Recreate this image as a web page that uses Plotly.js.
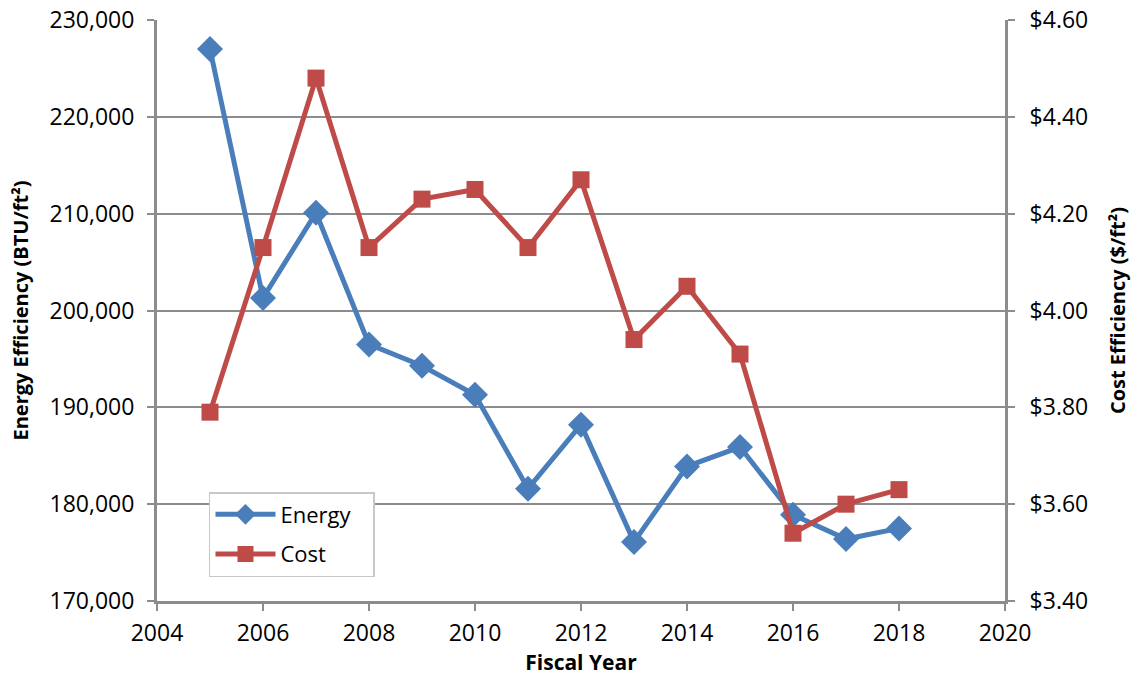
<!DOCTYPE html>
<html><head><meta charset="utf-8">
<script src="https://cdn.plot.ly/plotly-3.0.1.min.js"></script>
<style>html,body{margin:0;padding:0;background:#fff}#chart{width:1135px;height:681px}</style>
</head><body><div id="chart"></div>
<script>
const years = [2005,2006,2007,2008,2009,2010,2011,2012,2013,2014,2015,2016,2017,2018];
const energy = [227000,201300,210100,196500,194300,191300,181600,188200,176100,183900,185900,178900,176400,177500];
const cost = [3.79,4.13,4.48,4.13,4.23,4.25,4.13,4.27,3.94,4.05,3.91,3.54,3.60,3.63];
const FONT = 'Open Sans, Lato, sans-serif';
const grid = '#8c8c8c';
const traces = [
  {x: years, y: energy, name: 'Energy\u00a0\u00a0\u00a0', type: 'scatter', mode: 'lines+markers', legendgroup: 'a',
   line: {color: '#4a7ebb', width: 5}, marker: {symbol: 'diamond', size: 20, color: '#4a7ebb'}, yaxis: 'y'},
  {x: years, y: cost, name: 'Cost', type: 'scatter', mode: 'lines+markers', legendgroup: 'b',
   line: {color: '#be4b48', width: 5}, marker: {symbol: 'square', size: 17, color: '#be4b48'}, yaxis: 'y2'}
];
const layout = {
  width: 1135, height: 681,
  margin: {l: 157, r: 130, t: 20, b: 80},
  paper_bgcolor: '#fff', plot_bgcolor: '#fff',
  font: {family: FONT, size: 23, color: '#000'},
  showlegend: true,
  legend: {x: 0.0613, y: 0.1876, xanchor: 'left', yanchor: 'top', bgcolor: '#fff',
    bordercolor: '#c8c8c8', borderwidth: 1.5, font: {size: 22}, tracegroupgap: 8,
    traceorder: 'grouped', itemwidth: 60},
  xaxis: {range: [2004, 2020], tickvals: [2004,2006,2008,2010,2012,2014,2016,2018,2020],
    ticktext: ['2004','2006','2008','2010','2012','2014','2016','2018','2020'],
    showgrid: false, zeroline: false, showline: true, linecolor: grid, linewidth: 3,
    ticks: 'outside', ticklen: 7, tickwidth: 2, tickcolor: grid, ticklabelstandoff: 2,
    title: {text: '<b>Fiscal Year</b>', font: {size: 21}, standoff: 6}},
  yaxis: {range: [170000, 230000], tickvals: [170000,180000,190000,200000,210000,220000,230000],
    ticktext: ['170,000','180,000','190,000','200,000','210,000','220,000','230,000'],
    showgrid: true, gridcolor: grid, gridwidth: 2, zeroline: false, showline: true,
    linecolor: grid, linewidth: 3, ticks: 'outside', ticklen: 7, tickwidth: 2, tickcolor: grid,
    ticklabelstandoff: 8,
    title: {text: '<b>Energy Efficiency (BTU/ft²)</b>', font: {size: 20}, standoff: 16}},
  yaxis2: {range: [3.40, 4.60], overlaying: 'y', side: 'right',
    tickvals: [3.40,3.60,3.80,4.00,4.20,4.40,4.60],
    ticktext: ['$3.40','$3.60','$3.80','$4.00','$4.20','$4.40','$4.60'],
    showgrid: false, zeroline: false, showline: true, linecolor: grid, linewidth: 3,
    ticks: 'outside', ticklen: 7, tickwidth: 2, tickcolor: grid, ticklabelstandoff: 10,
    title: {text: '<b>Cost Efficiency ($/ft²)</b>', font: {size: 20}, standoff: 24}}
};
Plotly.newPlot('chart', traces, layout, {displayModeBar: false});
</script></body></html>
